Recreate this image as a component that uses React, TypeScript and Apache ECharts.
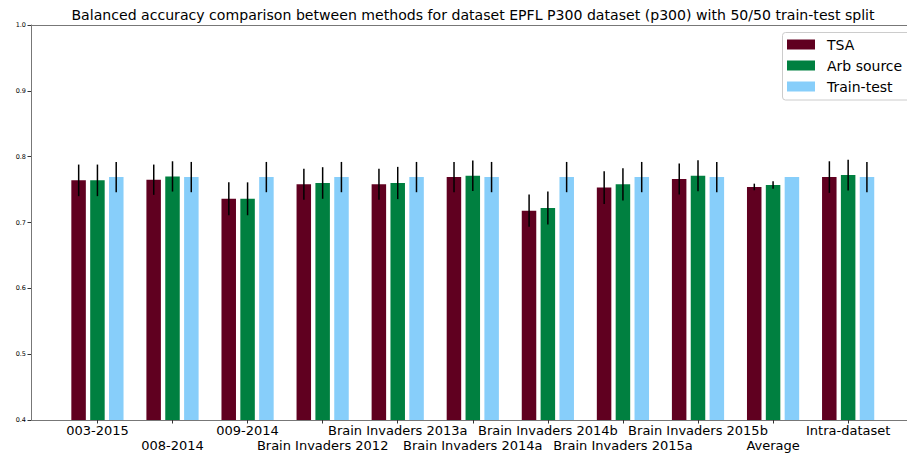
import React, { useEffect, useRef } from "react";
import * as echarts from "echarts";

const categories = [
  "003-2015",
  "008-2014",
  "009-2014",
  "Brain Invaders 2012",
  "Brain Invaders 2013a",
  "Brain Invaders 2014a",
  "Brain Invaders 2014b",
  "Brain Invaders 2015a",
  "Brain Invaders 2015b",
  "Average",
  "Intra-dataset",
];

const tsaMean = [0.764, 0.765, 0.736, 0.758, 0.758, 0.769, 0.718, 0.753, 0.766, 0.754, 0.769];
const tsaStd = [0.024, 0.023, 0.025, 0.0235, 0.0235, 0.023, 0.0245, 0.025, 0.0235, 0.005, 0.024];
const arbMean = [0.764, 0.770, 0.736, 0.760, 0.760, 0.771, 0.722, 0.758, 0.771, 0.757, 0.772];
const arbStd = [0.024, 0.023, 0.025, 0.024, 0.0245, 0.023, 0.025, 0.0245, 0.0235, 0.0056, 0.0235];
const ttMean = [0.769, 0.769, 0.769, 0.769, 0.769, 0.769, 0.769, 0.769, 0.769, 0.769, 0.769];
const ttStd = [0.023, 0.023, 0.023, 0.023, 0.023, 0.023, 0.023, 0.023, 0.023, 0, 0.023];

const seriesNames = ["TSA", "Arb source", "Train-test"];
const seriesColors = ["#600020", "#008040", "#87CEFA"];
const yTicks = [0.4, 0.5, 0.6, 0.7, 0.8, 0.9, 1.0];
const titleText =
  "Balanced accuracy comparison between methods for dataset EPFL P300 dataset (p300) with 50/50 train-test split";

const FONT = "DejaVu Sans";
const X_MIN = -0.885;
const X_MAX = 10.784;

export default function App() {
  const ref = useRef<HTMLDivElement>(null);

  useEffect(() => {
    if (!ref.current) return;
    const chart = echarts.init(ref.current, null, { renderer: "svg" });

    const means = [tsaMean, arbMean, ttMean];
    const stds = [tsaStd, arbStd, ttStd];
    const offsets = [-0.25, 0, 0.25];
    const idx = categories.map((_, i) => i);

    const barSeries = seriesNames.map((name, s) => ({
      name,
      type: "bar",
      barWidth: 14.5,
      barGap: "30%",
      itemStyle: { color: seriesColors[s] },
      data: means[s].map((v, i) => [i, v]),
      z: 2,
    }));

    const errData: number[][] = [];
    for (let s = 0; s < 3; s++) {
      for (let i = 0; i < categories.length; i++) {
        if (stds[s][i] > 0) {
          errData.push([i + offsets[s], means[s][i] - stds[s][i], means[s][i] + stds[s][i]]);
        }
      }
    }

    const errSeries = {
      type: "custom",
      name: "err",
      silent: true,
      z: 5,
      data: errData,
      encode: { x: 0, y: [1, 2] },
      renderItem: (params: any, api: any) => {
        const x = api.value(0);
        const p1 = api.coord([x, api.value(1)]);
        const p2 = api.coord([x, api.value(2)]);
        return {
          type: "line",
          shape: { x1: p1[0], y1: p1[1], x2: p2[0], y2: p2[1] },
          style: { stroke: "#000", lineWidth: 1.5 },
        };
      },
    };

    chart.setOption({
      animation: false,
      backgroundColor: "#fff",
      graphic: [
        {
          type: "text",
          x: 473,
          y: 15,
          style: {
            text: titleText,
            fontFamily: FONT,
            fontSize: 14.1,
            fill: "#000",
            align: "center",
            verticalAlign: "middle",
          },
        },
        {
          type: "rect",
          z: 10,
          shape: { x: 782.5, y: 32.5, width: 130, height: 67.5, r: 3 },
          style: { fill: "rgba(255,255,255,0.8)", stroke: "#ccc", lineWidth: 1 },
        },
      ],
      legend: {
        data: seriesNames,
        orient: "vertical",
        left: 782,
        top: 32.5,
        z: 20,
        itemWidth: 28,
        itemHeight: 10,
        itemGap: 5,
        icon: "rect",
        padding: [4, 0, 5, 5],
        borderWidth: 0,
        backgroundColor: "transparent",
        formatter: (name: string) => "{g|}" + name,
        textStyle: {
          fontFamily: FONT,
          fontSize: 14,
          color: "#000",
          lineHeight: 16,
          rich: { g: { width: 7, fontSize: 14, lineHeight: 16 } },
        },
      },
      grid: {
        left: 31,
        top: 25,
        right: 0,
        height: 395,
        show: false,
      },
      xAxis: [
        {
          type: "value",
          min: X_MIN,
          max: X_MAX,
          splitLine: { show: false },
          axisLine: { show: true, onZero: false, lineStyle: { color: "#777", width: 1 } },
          axisTick: { show: true, length: 3.5, customValues: idx, lineStyle: { color: "#333" } },
          axisLabel: {
            customValues: idx,
            margin: 3.5,
            fontFamily: FONT,
            fontSize: 13,
            lineHeight: 14.5,
            color: "#000",
            formatter: (v: number) => {
              const i = Math.round(v);
              const name = categories[i] ?? "";
              return i % 2 === 1 ? "\n" + name : name;
            },
          },
        },
        {
          type: "value",
          position: "top",
          min: X_MIN,
          max: X_MAX,
          splitLine: { show: false },
          axisLine: { show: true, onZero: false, lineStyle: { color: "#777", width: 1 } },
          axisTick: { show: false },
          axisLabel: { show: false },
        },
      ],
      yAxis: {
        type: "value",
        min: 0.4,
        max: 1.0,
        interval: 0.1,
        splitLine: { show: false },
        axisLine: { show: true, onZero: false, lineStyle: { color: "#777", width: 1 } },
        axisTick: { show: true, length: 3.5, lineStyle: { color: "#333" } },
        axisLabel: {
          margin: 5,
          fontFamily: FONT,
          fontSize: 6.5,
          color: "#000",
          formatter: (v: number) => {
            const t = yTicks.find((y) => Math.abs(y - v) < 1e-6);
            return t !== undefined ? t.toFixed(1) : "";
          },
        },
      },
      series: [...barSeries, errSeries],
    });

    return () => chart.dispose();
  }, []);

  return (
    <div
      ref={ref}
      style={{ position: "fixed", left: 0, top: 0, width: 907, height: 458, overflow: "hidden" }}
    />
  );
}
